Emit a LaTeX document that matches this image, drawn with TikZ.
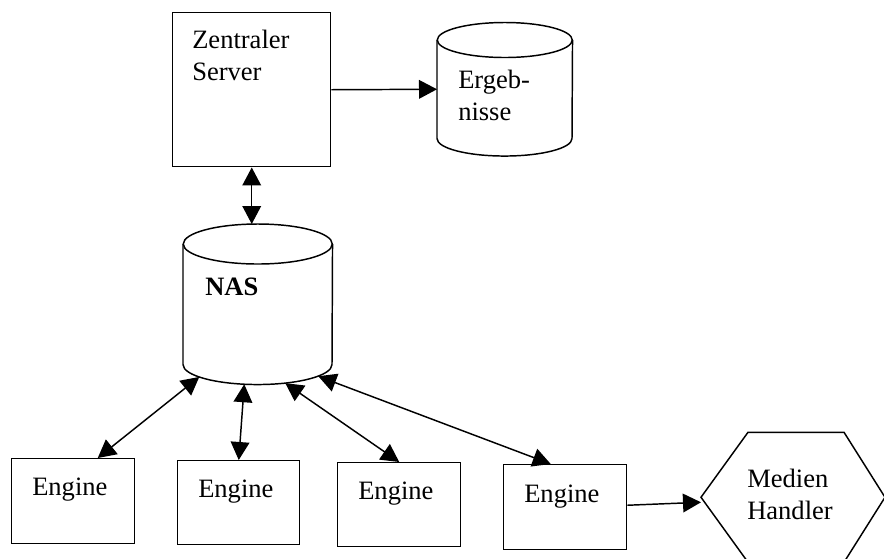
\documentclass[tikz,border=0pt]{standalone}
\usepackage{fontspec}
\setmainfont{Liberation Serif}
\usetikzlibrary{arrows.meta,calc}
\tikzset{
  ln/.style={line width=1.1pt},
  tipx/.tip={Triangle[length=13.5pt,width=14pt]},
  arr/.style={ln,-tipx},
  darr/.style={ln,tipx-tipx},
  boxnode/.style={draw,ln,rectangle,inner sep=0pt,anchor=north west},
  bodynode/.style={rectangle,inner sep=0pt,anchor=north west},
  txt/.style={anchor=base west,inner sep=0pt,align=left,font=\fontsize{19.9pt}{24pt}\selectfont},
}
\begin{document}
\begin{tikzpicture}[x=0.75pt,y=-0.75pt]
\useasboundingbox (0,0) rectangle (884,558);
\fill[white] (0,0) rectangle (884,558);
\clip (0,0) rectangle (884,558);

% Zentraler Server
\node[boxnode,minimum width=118.5pt,minimum height=115.5pt] (srv) at (172,12) {};
\node[txt] (srvt) at (192,80) {Zentraler\\Server};

% Ergebnisse cylinder
\node[bodynode,minimum width=101.25pt,minimum height=73.5pt] (erg) at (437,40) {};
\draw[ln] (erg.north west) -- (erg.south west)
  arc[start angle=180,end angle=360,x radius=50.625pt,y radius=13.125pt]
  -- (erg.north east);
\draw[ln] (erg.north) ellipse[x radius=50.625pt,y radius=13.125pt];
\node[txt] (ergt) at (458,120) {Ergeb-\\nisse};

% NAS cylinder
\node[bodynode,minimum width=111.75pt,minimum height=90pt] (nas) at (183,244) {};
\draw[ln] (nas.north west) -- (nas.south west)
  arc[start angle=180,end angle=360,x radius=55.875pt,y radius=15pt]
  -- (nas.north east);
\draw[ln] (nas.north) ellipse[x radius=55.875pt,y radius=15pt];
\node[txt,font=\fontsize{19.9pt}{24pt}\selectfont\bfseries] (nast) at (205,295) {NAS};
\coordinate (nastop) at ($(nas.north)+(0,-20)$);

% Engines
\node[boxnode,minimum width=92.25pt,minimum height=63.75pt] (e1) at (11,458) {};
\node[txt] (e1t) at (32,495) {Engine};
\node[boxnode,minimum width=91.5pt,minimum height=63pt] (e2) at (177,460) {};
\node[txt] (e2t) at (198,497) {Engine};
\node[boxnode,minimum width=92.25pt,minimum height=63pt] (e3) at (337,462) {};
\node[txt] (e3t) at (358,499) {Engine};
\node[boxnode,minimum width=92.25pt,minimum height=63.75pt] (e4) at (503,464) {};
\node[txt] (e4t) at (524,502) {Engine};

% Medien Handler hexagon
\node[bodynode,minimum width=138.75pt,minimum height=97.5pt] (med) at (701,432) {};
\draw[ln] (med.west) -- ++(47,-65) -- ++(96,0) -- ++(41,65) -- ++(-41,65) -- ++(-96,0) -- cycle;
\node[txt] (medt) at (747,519) {Medien\\Handler};

% connectors
\draw[arr] (srv.east) -- (erg.west);
\draw[darr] (srv.south) -- (srv.south |- nastop);
\draw[darr] ($(e1.north)+(24.5,0)$) -- ($(nas.south)+(-58.5,12.4)$);
\draw[darr] (e2.north) -- ($(nas.south)+(-13.5,19.7)$);
\draw[darr] (e3.north) -- ($(nas.south)+(27.5,18.6)$);
\draw[darr] ($(e4.north)+(-14.5,0)$) -- ($(nas.south)+(60.5,11.7)$);
\draw[arr] ($(e4.east)+(0,-2)$) -- ($(med.west)+(0,5)$);
\end{tikzpicture}
\end{document}
